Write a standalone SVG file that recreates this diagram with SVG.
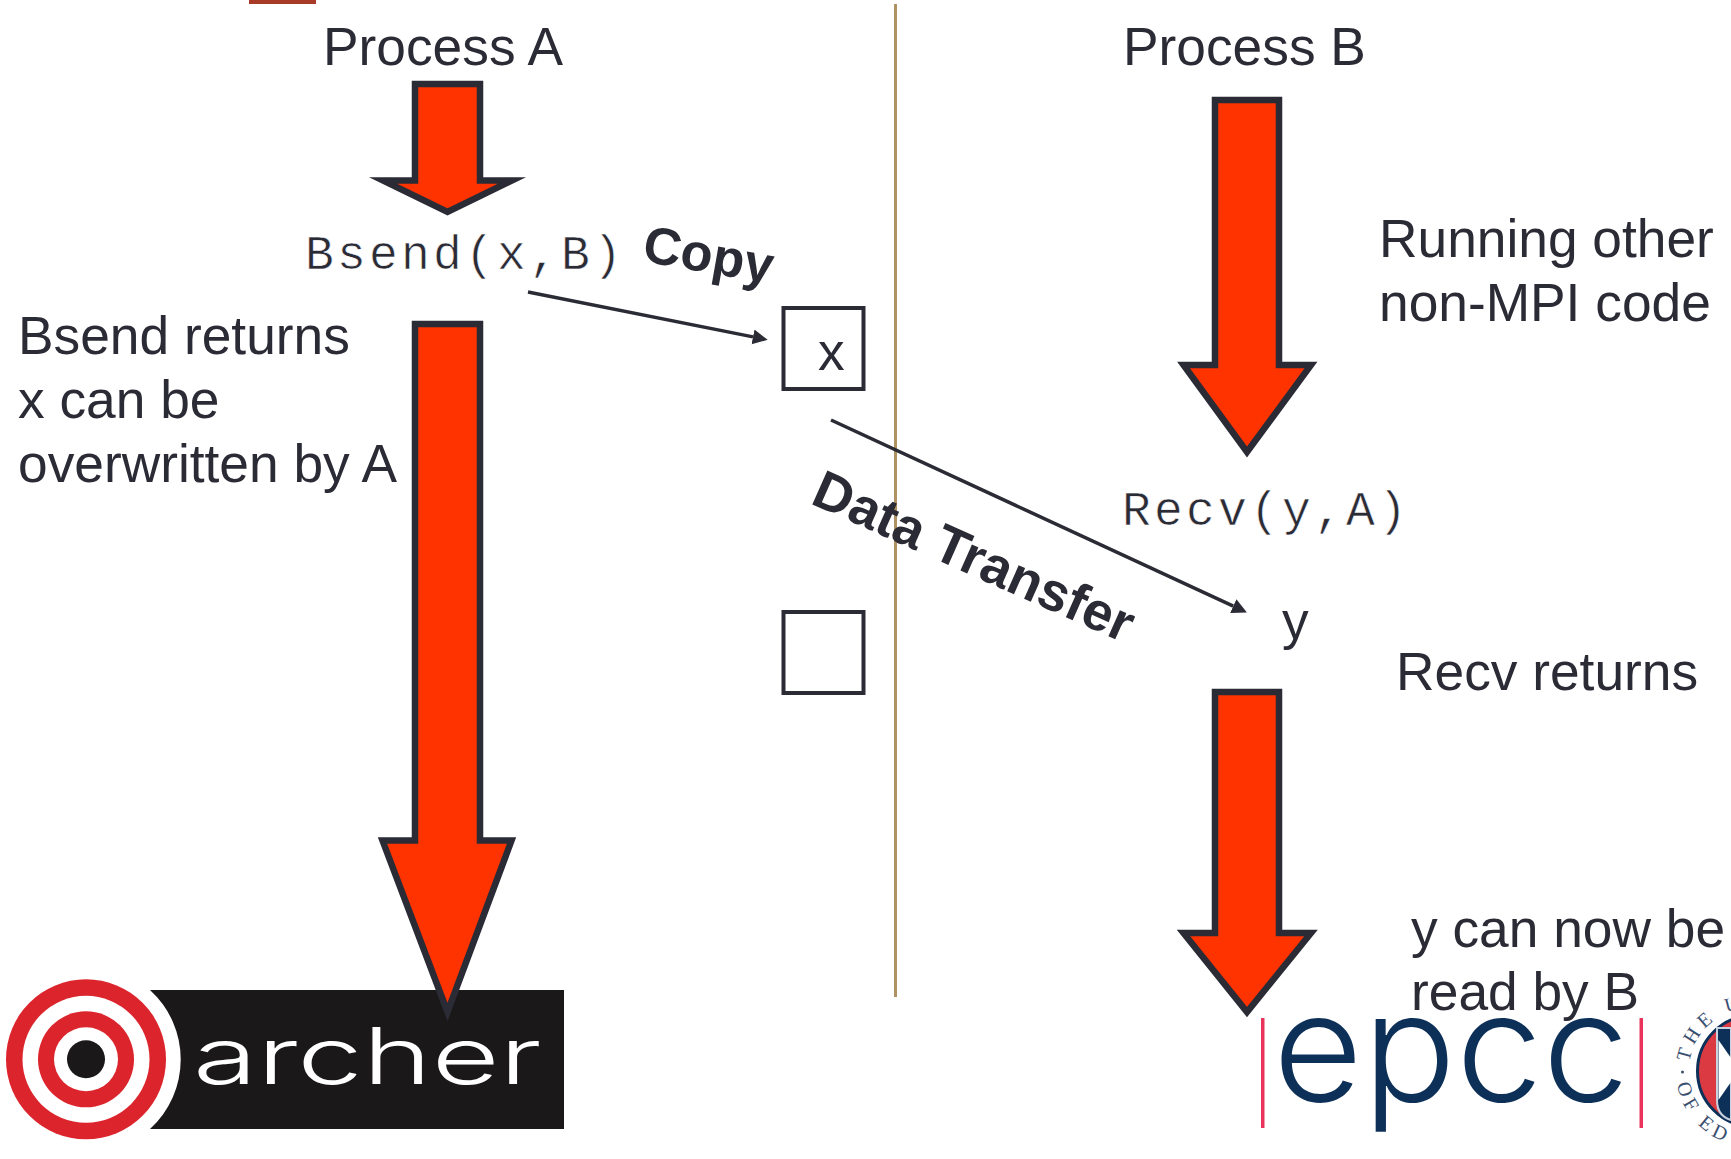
<svg xmlns="http://www.w3.org/2000/svg" width="1731" height="1159" viewBox="0 0 1731 1159">
<style>
.t{font-family:"Liberation Sans",Arial,sans-serif;font-size:53.3px;fill:#2b2b36}
.b{font-family:"Liberation Sans",Arial,sans-serif;font-size:54px;font-weight:700;fill:#2b2b36}
.m{font-family:"Liberation Mono","Courier New",monospace;font-size:48px;letter-spacing:3.2px;fill:#2b2b36;stroke:#fff;stroke-width:.6px}
.flow{fill:#ff3300;stroke:#2b2b36;stroke-width:6.5;stroke-miterlimit:10}
.box{fill:#fff;stroke:#2b2b36;stroke-width:4}
.conn{fill:none;stroke:#2b2b36;stroke-width:3.5}
.seal{font-family:"Liberation Serif","Times New Roman",serif;font-size:20px;fill:#3b4f70;letter-spacing:5px}
</style>
<defs>
<marker id="head" markerUnits="userSpaceOnUse" markerWidth="16" markerHeight="16" refX="0" refY="7.5" orient="auto"><path d="M0,0 L15,7.5 L0,15 Z" fill="#2b2b36"/></marker>
<path id="sealTop" d="M1689.6,1062.2 A63,63 0 0 1 1752,1008"/>
<path id="sealBot" d="M1677.2,1084.2 A76,76 0 0 0 1752,1147"/>
</defs>
<rect width="1731" height="1159" fill="#fff"/>
<rect id="top-mark" x="249" y="0" width="67" height="4" fill="#a83a28"/>
<line id="divider" x1="895.5" y1="4" x2="895.5" y2="997" stroke="#b09262" stroke-width="3"/>

<g id="archer-logo">
<circle cx="86" cy="1059.3" r="80" fill="#dc242c"/>
<circle cx="86" cy="1059.3" r="63.5" fill="#fff"/>
<circle cx="86" cy="1059.3" r="48" fill="#dc242c"/>
<circle cx="86" cy="1059.3" r="32" fill="#fff"/>
<circle cx="86" cy="1059.3" r="19" fill="#1a1818"/>
<path d="M150,990 H564 V1129 H150 A94,94 0 0 0 150,990 Z" fill="#1a1818"/>
<text transform="translate(193,1084) scale(1.5,1)" font-family="Inter,sans-serif" font-weight="300" font-size="78" fill="#fff">archer</text>
</g>

<g id="epcc-logo">
<rect x="1261" y="1018" width="3.5" height="110" fill="#e8345a"/>
<rect x="1639.5" y="1018" width="3.5" height="110" fill="#e8345a"/>
<text x="1273" y="1101" font-family="Inter,sans-serif" font-weight="350" font-size="150" fill="#0d3059" textLength="356" lengthAdjust="spacingAndGlyphs">epcc</text>
</g>

<g id="seal">
<circle cx="1753" cy="1071" r="55.5" fill="#dc3a42" stroke="#0d3059" stroke-width="3"/>
<path d="M1717,1028 H1731 V1120 Q1717,1116 1717,1100 Z" fill="#0d3059" stroke="#c9d2df" stroke-width="2"/>
<path d="M1718.5,1040 L1731,1058 V1082 L1718.5,1100 Z" fill="#fff"/>
<text class="seal"><textPath href="#sealTop">THE U</textPath></text>
<text class="seal"><textPath href="#sealBot">OF ED</textPath></text>
<circle cx="1682.5" cy="1072" r="1.5" fill="#3b4f70"/>
</g>

<g id="flow-a1"><path class="flow" d="M415,84 H480 V180.4 H512 L447.5,212 L383,180.4 H415 Z"/></g>
<g id="flow-a2"><path class="flow" d="M415,324 H480 V840.6 H511.5 L447.5,1012 L382.5,840.6 H415 Z"/></g>
<g id="flow-b1"><path class="flow" d="M1215,100 H1279 V365 H1311 L1247,452 L1183.5,365 H1215 Z"/></g>
<g id="flow-b2"><path class="flow" d="M1215,692 H1279 V933 H1311 L1247,1012 L1183.5,933 H1215 Z"/></g>

<g id="box-x"><rect class="box" x="783.5" y="308" width="80" height="81"/><text class="t" x="818" y="370">x</text></g>
<g id="box-empty"><rect class="box" x="783.5" y="612" width="80" height="81"/></g>

<g id="connectors">
<line class="conn" x1="528" y1="292" x2="753" y2="336.9" marker-end="url(#head)"/>
<line class="conn" x1="831" y1="420" x2="1233.3" y2="606.1" marker-end="url(#head)"/>
</g>

<g id="process-a"><text class="t" x="323" y="65">Process A</text></g>
<g id="process-b"><text class="t" x="1123" y="65">Process B</text></g>
<g id="bsend"><text class="m" x="305" y="269">Bsend(x,B)</text></g>
<g id="recv"><text class="m" x="1122" y="525">Recv(y,A)</text></g>
<g id="copy-label"><text class="b" style="font-size:52.5px" transform="translate(641,261) rotate(10)">Copy</text></g>
<g id="transfer-label"><text class="b" transform="translate(809,503) rotate(24)">Data Transfer</text></g>
<g id="bsend-note"><text class="t" x="18" y="354">Bsend returns</text><text class="t" x="18" y="418">x can be</text><text class="t" x="18" y="482">overwritten by A</text></g>
<g id="running-note"><text class="t" x="1379" y="257">Running other</text><text class="t" x="1379" y="321">non-MPI code</text></g>
<g id="y-label"><text class="t" x="1282" y="639">y</text></g>
<g id="recv-note"><text class="t" x="1396" y="690">Recv returns</text></g>
<g id="y-note"><text class="t" x="1411" y="947">y can now be</text><text class="t" x="1411" y="1010">read by B</text></g>
</svg>
